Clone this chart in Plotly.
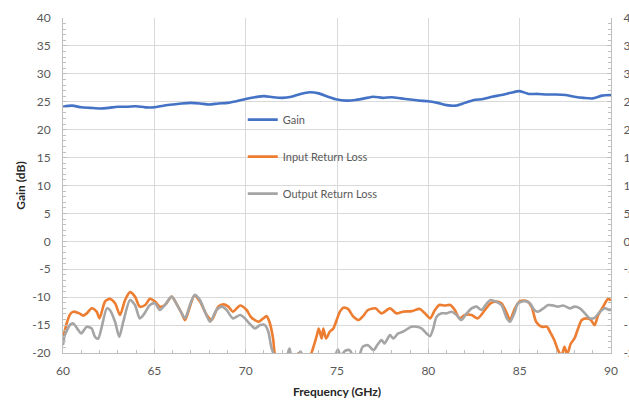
import plotly.graph_objects as go

# Gain (dB) versus frequency (GHz)
gain_freq = [60.0, 60.5, 61.0, 61.5, 62.0, 62.5, 63.0, 63.5, 64.0, 64.5, 65.0, 65.5,
             66.0, 66.5, 67.0, 67.5, 68.0, 68.5, 69.0, 69.5, 70.0, 70.5, 71.0, 71.5,
             72.0, 72.5, 73.0, 73.5, 74.0, 74.5, 75.0, 75.5, 76.0, 76.5, 77.0, 77.5,
             78.0, 78.5, 79.0, 79.5, 80.0, 80.5, 81.0, 81.5, 82.0, 82.5, 83.0, 83.5,
             84.0, 84.5, 85.0, 85.5, 86.0, 86.5, 87.0, 87.5, 88.0, 88.5, 89.0, 89.5, 90.0]
gain_db = [24.1, 24.3, 24.0, 23.9, 23.8, 23.9, 24.1, 24.1, 24.2, 24.0, 24.0, 24.3,
           24.5, 24.7, 24.8, 24.7, 24.5, 24.7, 24.8, 25.1, 25.5, 25.8, 26.0, 25.8,
           25.7, 25.9, 26.4, 26.7, 26.5, 25.9, 25.4, 25.2, 25.3, 25.6, 25.9, 25.7,
           25.8, 25.6, 25.4, 25.2, 25.1, 24.8, 24.4, 24.3, 24.8, 25.3, 25.5, 25.9,
           26.2, 26.6, 26.9, 26.4, 26.4, 26.3, 26.3, 26.2, 25.9, 25.7, 25.6, 26.1, 26.2]

# Input return loss (dB)
irl_freq = [60.0, 60.2, 60.4, 60.56, 60.9, 61.1, 61.3, 61.57, 61.84, 62.0, 62.3, 62.57,
            62.85, 63.12, 63.4, 63.67, 63.94, 64.2, 64.5, 64.76, 65.04, 65.3, 65.58, 65.95,
            66.2, 66.5, 66.68, 66.86, 67.2, 67.5, 67.87, 68.14, 68.5, 68.77, 69.05, 69.3,
            69.7, 70.05, 70.3, 70.7, 70.96, 71.15, 71.3, 71.5, 71.6, 71.8, 72.4, 72.8,
            72.9, 73.0, 73.4, 73.6, 73.75, 73.9, 74.0, 74.16, 74.25, 74.4, 74.6, 74.8,
            74.98, 75.16, 75.34, 75.6, 75.9, 76.2, 76.4, 76.7, 77.1, 77.44, 77.9, 78.26,
            78.6, 79.1, 79.54, 79.9, 80.1, 80.36, 80.6, 80.9, 81.2, 81.45, 81.7, 82.0,
            82.37, 82.7, 83.1, 83.4, 83.7, 84.0, 84.3, 84.47, 84.74, 85.02, 85.4, 85.65,
            85.9, 86.2, 86.5, 86.66, 86.9, 87.1, 87.3, 87.45, 87.6, 87.8, 88.0, 88.2,
            88.4, 88.66, 88.9, 89.1, 89.3, 89.57, 89.85, 89.94, 90.0]
irl_db = [-17.5, -14.7, -13.0, -12.6, -12.9, -13.3, -12.9, -12.0, -12.6, -13.8, -10.8, -10.3,
          -11.1, -13.2, -10.5, -9.1, -9.9, -11.7, -11.4, -10.3, -10.8, -11.7, -11.4, -9.9,
          -11.1, -12.9, -14.1, -12.6, -9.7, -10.8, -13.2, -14.1, -11.7, -11.3, -11.7, -12.6,
          -11.5, -12.3, -13.6, -14.4, -13.8, -13.4, -14.4, -17.4, -20.3, -22.0, -22.0, -20.6,
          -20.0, -20.8, -21.5, -20.0, -18.5, -16.8, -15.6, -17.4, -15.6, -17.4, -16.2, -15.6,
          -14.1, -12.6, -11.9, -12.1, -13.5, -14.1, -13.5, -12.3, -12.0, -12.9, -12.0, -12.9,
          -12.6, -12.5, -12.1, -13.2, -13.8, -12.3, -11.4, -11.5, -11.4, -12.3, -13.8, -13.2,
          -13.2, -13.8, -12.3, -11.1, -10.8, -11.1, -12.9, -14.1, -12.0, -10.7, -10.7, -11.7,
          -14.4, -15.3, -15.3, -16.2, -17.7, -19.5, -20.4, -18.9, -20.2, -18.3, -17.4, -15.6,
          -14.1, -13.8, -14.1, -15.0, -13.2, -11.7, -10.2, -10.5, -10.3]

# Output return loss (dB)
orl_freq = [60.0, 60.1, 60.4, 60.56, 60.84, 61.0, 61.3, 61.57, 61.75, 61.93, 62.1, 62.4,
            62.57, 62.85, 63.08, 63.3, 63.67, 63.94, 64.2, 64.4, 64.76, 65.04, 65.3, 65.58,
            65.95, 66.2, 66.5, 66.68, 66.95, 67.2, 67.5, 67.77, 68.05, 68.4, 68.7, 68.96,
            69.3, 69.7, 69.96, 70.2, 70.5, 70.8, 71.05, 71.24, 71.4, 71.56, 71.8, 72.2,
            72.4, 72.5, 72.8, 73.0, 73.2, 74.0, 74.8, 75.05, 75.2, 75.45, 75.7, 75.9,
            76.2, 76.4, 76.7, 77.0, 77.2, 77.44, 77.6, 77.9, 78.08, 78.35, 78.6, 78.9,
            79.08, 79.36, 79.63, 79.9, 80.09, 80.27, 80.45, 80.73, 81.0, 81.27, 81.55, 81.8,
            82.1, 82.37, 82.64, 82.9, 83.2, 83.4, 83.7, 84.0, 84.3, 84.47, 84.74, 84.9,
            85.3, 85.56, 85.8, 86.0, 86.3, 86.56, 86.84, 87.1, 87.38, 87.75, 88.0, 88.3,
            88.57, 88.84, 89.1, 89.4, 89.67, 89.94, 90.0]
orl_db = [-18.6, -16.8, -14.9, -14.7, -15.9, -16.5, -15.3, -15.6, -17.1, -17.4, -15.6, -12.0,
          -12.3, -14.4, -17.1, -14.4, -10.5, -11.4, -13.8, -13.2, -11.4, -11.1, -12.3, -11.4,
          -9.9, -11.1, -12.9, -13.8, -11.4, -9.6, -10.5, -12.6, -14.4, -12.3, -11.7, -12.3,
          -13.8, -13.2, -13.8, -14.7, -15.6, -15.0, -15.0, -16.2, -18.9, -20.4, -22.0, -21.0,
          -19.2, -20.5, -21.0, -19.7, -21.0, -22.0, -21.0, -19.4, -20.5, -19.6, -19.5, -20.6,
          -20.5, -18.9, -18.6, -19.5, -18.6, -17.7, -18.3, -16.8, -17.4, -16.5, -16.2, -15.6,
          -15.3, -15.3, -15.6, -16.5, -17.0, -15.6, -13.5, -12.9, -12.9, -12.6, -13.2, -14.1,
          -12.9, -12.0, -11.7, -12.3, -11.1, -10.5, -10.8, -11.4, -13.8, -14.4, -12.6, -11.1,
          -10.7, -11.1, -12.3, -12.6, -12.0, -11.4, -11.5, -11.7, -11.5, -12.0, -11.7, -12.0,
          -12.9, -13.8, -13.7, -12.6, -12.0, -12.3, -12.0]

y_ticks = list(range(-20, 45, 5))
y_labels = [str(v) for v in y_ticks]   # plain hyphen for negatives
x_ticks = list(range(60, 95, 5))
x_labels = [str(v) for v in x_ticks]

FONT = "Lato, 'Open Sans', sans-serif"
TICK_COLOR = "#595959"
TITLE_COLOR = "#262626"
GRID = "#D9D9D9"
AXIS = "#BFBFBF"

fig = go.Figure()
series = [
    ("Gain", gain_freq, gain_db, "#4472C4"),
    ("Input Return Loss", irl_freq, irl_db, "#ED7D31"),
    ("Output Return Loss", orl_freq, orl_db, "#A5A5A5"),
]
for name, xs, ys, color in series:
    fig.add_trace(go.Scatter(
        x=xs, y=ys, name=name, mode="lines", legendgroup=name,
        line=dict(color=color, width=2.6, shape="spline", smoothing=0.7),
    ))

# Invisible trace to carry the mirrored right-hand axis
fig.add_trace(go.Scatter(x=[60], y=[0], yaxis="y2", showlegend=False,
                         hoverinfo="skip", mode="lines", line=dict(width=0)))

minor_ticks = dict(dtick=1, ticks="inside", ticklen=3, tickcolor=AXIS, showgrid=False)
tick_font = dict(family=FONT, size=12, color=TICK_COLOR)
title_font = dict(family=FONT, size=12, color=TITLE_COLOR)

fig.update_layout(
    width=629, height=400,
    margin=dict(l=63, r=18, t=18, b=47),
    paper_bgcolor="white", plot_bgcolor="white",
    font=dict(family=FONT, size=11, color=TICK_COLOR),
    xaxis=dict(
        range=[60, 90], tickmode="array", tickvals=x_ticks, ticktext=x_labels,
        ticklabelstandoff=7, automargin=False,
        showline=True, linecolor=AXIS, linewidth=1,
        gridcolor=GRID, gridwidth=1, zeroline=False,
        ticks="inside", ticklen=4, tickcolor=AXIS, tickfont=tick_font,
        minor=minor_ticks,
        title=dict(text="<b>Frequency (GHz)</b>", standoff=10, font=title_font),
    ),
    yaxis=dict(
        range=[-20, 40], tickmode="array", tickvals=y_ticks, ticktext=y_labels,
        ticklabelstandoff=9, automargin=False,
        showline=True, linecolor=AXIS, linewidth=1,
        gridcolor=GRID, gridwidth=1, zeroline=False,
        ticks="inside", ticklen=4, tickcolor=AXIS, tickfont=tick_font,
        minor=minor_ticks,
        title=dict(text="<b>Gain (dB)</b>", standoff=4, font=title_font),
    ),
    yaxis2=dict(
        range=[-20, 40], tickmode="array", tickvals=y_ticks, ticktext=y_labels,
        overlaying="y", side="right", automargin=False,
        ticklabelstandoff=9, showgrid=False, zeroline=False,
        showline=True, linecolor=AXIS, linewidth=1,
        ticks="inside", ticklen=4, tickcolor=AXIS, tickfont=tick_font,
        minor=minor_ticks,
    ),
    legend=dict(
        x=0.328, y=0.74, xanchor="left", yanchor="top",
        bgcolor="rgba(0,0,0,0)", tracegroupgap=18,
        font=dict(family=FONT, size=11, color=TICK_COLOR),
    ),
    showlegend=True,
)

fig.write_html("out.html")
